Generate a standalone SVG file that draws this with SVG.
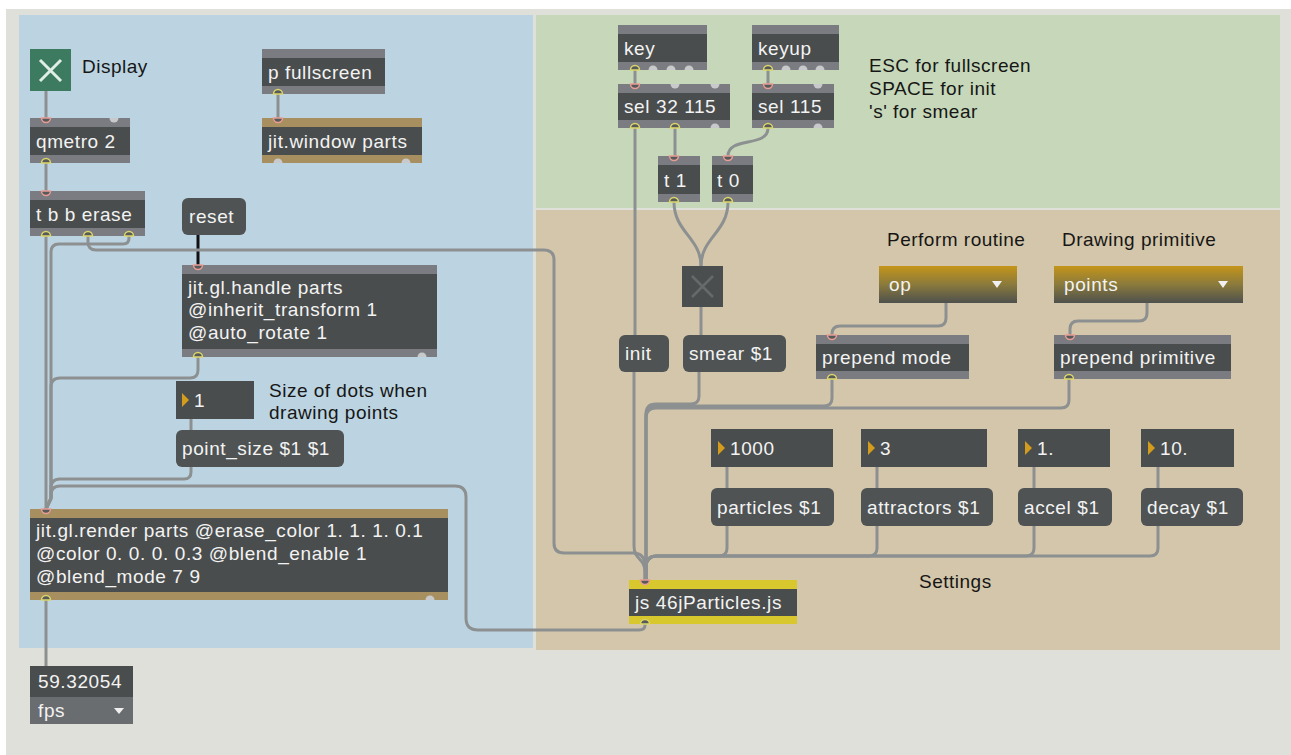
<svg xmlns="http://www.w3.org/2000/svg" width="1291" height="755" viewBox="0 0 1291 755">
<defs>
<style>
.bar{fill:#7b7c81}.gold{fill:#a88f5f}.yel{fill:#d8c72d}.body{fill:#4a4d4d}.msg{fill:#4f5353}
.t{font-family:"Liberation Sans",Arial,sans-serif;font-size:19px;letter-spacing:0.6px;fill:#f3f3f3}
.c{font-family:"Liberation Sans",Arial,sans-serif;font-size:19px;letter-spacing:0.5px;fill:#161616}
.cord{fill:none;stroke:#8d9091;stroke-width:3;stroke-linecap:round;stroke-linejoin:round}
.in{fill:#575a5a;stroke:#e89c94;stroke-width:1.5}
.out{fill:#575a5a;stroke:#dcd66a;stroke-width:1.5}
.dot{fill:#c8c9cb}
.tri{fill:#d49c1c}
.wtri{fill:#f0f0f0}
</style>
<linearGradient id="ug" x1="0" y1="0" x2="0" y2="1">
<stop offset="0" stop-color="#c4951a"/><stop offset="0.5" stop-color="#8a7a3c"/><stop offset="1" stop-color="#4e504d"/>
</linearGradient>
</defs>
<rect x="0" y="0" width="1291" height="755" fill="#ffffff"/>
<rect x="6" y="9" width="1285" height="746" fill="#dfe0da"/>
<rect x="19" y="15" width="514" height="633" fill="#bcd4e1"/>
<rect x="536" y="15" width="744" height="193" fill="#c6d8b9"/>
<rect x="536" y="210" width="744" height="440" fill="#d4c6aa"/>

<g id="connectors">
<path class="cord" d="M46,91 V118"/>
<path class="cord" d="M46,163 V191"/>
<path class="cord" d="M278,94 V118"/>
<path d="M198,235 V265" fill="none" stroke="#111" stroke-width="3"/>
<path class="cord" d="M46,236 V509"/>
<path class="cord" d="M129,236 V238 Q129,244 123,244 H59 Q51,244 51,252 V498 L46,509"/>
<path class="cord" d="M88,236 V242 Q88,250 96,250 H544 Q554,250 554,260 V543 Q554,553 564,553 H633 Q645,553 645,566 V580"/>
<path class="cord" d="M198,357 V370 Q198,378 190,378 H60 Q51,378 51,387 V498 L46,509"/>
<path class="cord" d="M191,419 V430"/>
<path class="cord" d="M191,467 V472 Q191,479 184,479 H60 Q51,479 51,488 V498 L46,509"/>
<path class="cord" d="M645,624 V625 Q645,630 639,630 H478 Q466,630 466,618 V497 Q466,486 455,486 H60 Q51,486 51,495 V499 L46,509"/>
<path class="cord" d="M46,600 V666"/>
<path class="cord" d="M635,70 V84"/>
<path class="cord" d="M768,70 V84"/>
<path class="cord" d="M635,128 V335"/>
<path class="cord" d="M675,128 V156"/>
<path class="cord" d="M768,128 C768,148 728,136 728,156"/>
<path class="cord" d="M674,202 C674,232 701,238 701,266"/>
<path class="cord" d="M728,202 C728,232 701,238 701,266"/>
<path class="cord" d="M701,307 V335"/>
<path class="cord" d="M699,372 V396 Q699,404 691,404 H656 Q646,404 646,414 V580"/>
<path class="cord" d="M634,372 V546 C634,560 645,558 645,572 V580"/>
<path class="cord" d="M946,303 V318 Q946,326 938,326 H840 Q832,326 832,334 V335"/>
<path class="cord" d="M1147,303 V313 Q1147,321 1139,321 H1078 Q1070,321 1070,329 V335"/>
<path class="cord" d="M832,379 V398 Q832,406 824,406 H656 Q646,406 646,416 V580"/>
<path class="cord" d="M1069,379 V400 Q1069,408 1061,408 H656 Q646,408 646,418 V580"/>
<path class="cord" d="M727,467 V488"/>
<path class="cord" d="M877,467 V488"/>
<path class="cord" d="M1034,467 V488"/>
<path class="cord" d="M1158,467 V488"/>
<path class="cord" d="M727,526 V548 Q727,556 719,556 H657 Q646,556 646,567 V580"/>
<path class="cord" d="M877,526 V548 Q877,556 869,556 H657 Q646,556 646,567 V580"/>
<path class="cord" d="M1034,526 V548 Q1034,556 1026,556 H657 Q646,556 646,567 V580"/>
<path class="cord" d="M1158,526 V548 Q1158,556 1150,556 H657 Q646,556 646,567 V580"/>
</g>

<g id="toggle-display">
<rect x="30" y="49" width="41" height="42" fill="#3d7b61"/>
<path d="M40,60 L61,81 M61,60 L40,81" stroke="#dfeee6" stroke-width="3"/>
</g>
<g id="comment-display"><text class="c" x="82" y="73">Display</text></g>

<g id="qmetro">
<rect class="body" x="30" y="118" width="100" height="45"/>
<rect class="bar" x="30" y="118" width="100" height="9"/>
<rect class="bar" x="30" y="155" width="100" height="8"/>
<text class="t" x="36" y="148">qmetro 2</text>
<path class="in" d="M41.5,118 A4.5,4.5 0 0 0 50.5,118 Z"/>
<path class="dot" d="M109.5,118 A4.5,4.5 0 0 0 118.5,118 Z"/>
<path class="out" d="M41.5,163 A4.5,4.5 0 0 1 50.5,163 Z"/>
</g>

<g id="tbb-erase">
<rect class="body" x="30" y="191" width="115" height="45"/>
<rect class="bar" x="30" y="191" width="115" height="9"/>
<rect class="bar" x="30" y="228" width="115" height="8"/>
<text class="t" x="36" y="221">t b b erase</text>
<path class="in" d="M41.5,191 A4.5,4.5 0 0 0 50.5,191 Z"/>
<path class="out" d="M41.5,236 A4.5,4.5 0 0 1 50.5,236 Z"/>
<path class="out" d="M83.5,236 A4.5,4.5 0 0 1 92.5,236 Z"/>
<path class="out" d="M124.5,236 A4.5,4.5 0 0 1 133.5,236 Z"/>
</g>

<g id="p-fullscreen">
<rect class="body" x="262" y="49" width="123" height="45"/>
<rect class="bar" x="262" y="49" width="123" height="9"/>
<rect class="bar" x="262" y="86" width="123" height="8"/>
<text class="t" x="268" y="79">p fullscreen</text>
<path class="out" d="M273.5,94 A4.5,4.5 0 0 1 282.5,94 Z"/>
</g>

<g id="jit-window">
<rect class="body" x="262" y="118" width="160" height="45"/>
<rect class="gold" x="262" y="118" width="160" height="9"/>
<rect class="gold" x="262" y="155" width="160" height="8"/>
<text class="t" x="268" y="148">jit.window parts</text>
<path class="in" d="M273.5,118 A4.5,4.5 0 0 0 282.5,118 Z"/>
<path class="dot" d="M273.5,163 A4.5,4.5 0 0 1 282.5,163 Z"/>
<path class="dot" d="M401.5,163 A4.5,4.5 0 0 1 410.5,163 Z"/>
</g>

<g id="reset">
<rect class="msg" x="182" y="198" width="64" height="37" rx="6"/>
<text class="t" x="189" y="223">reset</text>
</g>

<g id="jit-gl-handle">
<rect class="body" x="182" y="265" width="255" height="92"/>
<rect class="bar" x="182" y="265" width="255" height="9"/>
<rect class="bar" x="182" y="349" width="255" height="8"/>
<text class="t" x="188" y="294">jit.gl.handle parts</text>
<text class="t" x="188" y="316">@inherit_transform 1</text>
<text class="t" x="188" y="339">@auto_rotate 1</text>
<path class="in" d="M193.5,265 A4.5,4.5 0 0 0 202.5,265 Z"/>
<path class="out" d="M193.5,357 A4.5,4.5 0 0 1 202.5,357 Z"/>
<path class="dot" d="M417.5,357 A4.5,4.5 0 0 1 426.5,357 Z"/>
</g>

<g id="num-size">
<rect class="body" x="176" y="381" width="78" height="38"/>
<path class="tri" d="M182,393 L189,400 L182,407 Z"/>
<text class="t" x="194" y="407">1</text>
</g>
<g id="comment-size">
<text class="c" x="269" y="397">Size of dots when</text>
<text class="c" x="269" y="419">drawing points</text>
</g>

<g id="point-size">
<rect class="msg" x="176" y="430" width="168" height="37" rx="6"/>
<text class="t" x="182" y="455">point_size $1 $1</text>
</g>

<g id="jit-gl-render">
<rect class="body" x="30" y="509" width="418" height="91"/>
<rect class="gold" x="30" y="509" width="418" height="9"/>
<rect class="gold" x="30" y="592" width="418" height="8"/>
<text class="t" x="36" y="537">jit.gl.render parts @erase_color 1. 1. 1. 0.1</text>
<text class="t" x="36" y="560">@color 0. 0. 0. 0.3 @blend_enable 1</text>
<text class="t" x="36" y="583">@blend_mode 7 9</text>
<path class="in" d="M41.5,509 A4.5,4.5 0 0 0 50.5,509 Z"/>
<path class="out" d="M41.5,600 A4.5,4.5 0 0 1 50.5,600 Z"/>
<path class="dot" d="M425.5,600 A4.5,4.5 0 0 1 434.5,600 Z"/>
</g>

<g id="fps">
<rect class="body" x="30" y="666" width="103" height="31"/>
<rect x="30" y="697" width="103" height="27" fill="#6a6d70"/>
<text class="t" x="38" y="688">59.32054</text>
<text class="t" x="38" y="717">fps</text>
<path class="wtri" d="M114,708 L124,708 L119,714 Z"/>
</g>

<g id="key">
<rect class="body" x="618" y="25" width="89" height="45"/>
<rect class="bar" x="618" y="25" width="89" height="9"/>
<rect class="bar" x="618" y="62" width="89" height="8"/>
<text class="t" x="624" y="55">key</text>
<path class="out" d="M630.5,70 A4.5,4.5 0 0 1 639.5,70 Z"/>
<path class="dot" d="M648.5,70 A4.5,4.5 0 0 1 657.5,70 Z"/>
<path class="dot" d="M666.5,70 A4.5,4.5 0 0 1 675.5,70 Z"/>
<path class="dot" d="M684.5,70 A4.5,4.5 0 0 1 693.5,70 Z"/>
</g>

<g id="keyup">
<rect class="body" x="752" y="25" width="87" height="45"/>
<rect class="bar" x="752" y="25" width="87" height="9"/>
<rect class="bar" x="752" y="62" width="87" height="8"/>
<text class="t" x="758" y="55">keyup</text>
<path class="out" d="M763.5,70 A4.5,4.5 0 0 1 772.5,70 Z"/>
<path class="dot" d="M781.5,70 A4.5,4.5 0 0 1 790.5,70 Z"/>
<path class="dot" d="M798.5,70 A4.5,4.5 0 0 1 807.5,70 Z"/>
<path class="dot" d="M815.5,70 A4.5,4.5 0 0 1 824.5,70 Z"/>
</g>

<g id="sel-32-115">
<rect class="body" x="618" y="84" width="112" height="44"/>
<rect class="bar" x="618" y="84" width="112" height="9"/>
<rect class="bar" x="618" y="120" width="112" height="8"/>
<text class="t" x="624" y="113">sel 32 115</text>
<path class="in" d="M630.5,84 A4.5,4.5 0 0 0 639.5,84 Z"/>
<path class="dot" d="M670.5,84 A4.5,4.5 0 0 0 679.5,84 Z"/>
<path class="dot" d="M710.5,84 A4.5,4.5 0 0 0 719.5,84 Z"/>
<path class="out" d="M630.5,128 A4.5,4.5 0 0 1 639.5,128 Z"/>
<path class="out" d="M670.5,128 A4.5,4.5 0 0 1 679.5,128 Z"/>
<path class="dot" d="M710.5,128 A4.5,4.5 0 0 1 719.5,128 Z"/>
</g>

<g id="sel-115">
<rect class="body" x="752" y="84" width="82" height="44"/>
<rect class="bar" x="752" y="84" width="82" height="9"/>
<rect class="bar" x="752" y="120" width="82" height="8"/>
<text class="t" x="758" y="113">sel 115</text>
<path class="in" d="M763.5,84 A4.5,4.5 0 0 0 772.5,84 Z"/>
<path class="dot" d="M813.5,84 A4.5,4.5 0 0 0 822.5,84 Z"/>
<path class="out" d="M763.5,128 A4.5,4.5 0 0 1 772.5,128 Z"/>
<path class="dot" d="M813.5,128 A4.5,4.5 0 0 1 822.5,128 Z"/>
</g>

<g id="comment-keys">
<text class="c" x="869" y="72">ESC for fullscreen</text>
<text class="c" x="869" y="95">SPACE for init</text>
<text class="c" x="869" y="118">'s' for smear</text>
</g>

<g id="t1">
<rect class="body" x="658" y="156" width="42" height="46"/>
<rect class="bar" x="658" y="156" width="42" height="9"/>
<rect class="bar" x="658" y="194" width="42" height="8"/>
<text class="t" x="664" y="187">t 1</text>
<path class="in" d="M669.5,156 A4.5,4.5 0 0 0 678.5,156 Z"/>
<path class="out" d="M669.5,202 A4.5,4.5 0 0 1 678.5,202 Z"/>
</g>

<g id="t0">
<rect class="body" x="712" y="156" width="41" height="46"/>
<rect class="bar" x="712" y="156" width="41" height="9"/>
<rect class="bar" x="712" y="194" width="41" height="8"/>
<text class="t" x="717" y="187">t 0</text>
<path class="in" d="M723.5,156 A4.5,4.5 0 0 0 732.5,156 Z"/>
<path class="out" d="M723.5,202 A4.5,4.5 0 0 1 732.5,202 Z"/>
</g>

<g id="comment-perform"><text class="c" x="887" y="246">Perform routine</text></g>
<g id="comment-primitive"><text class="c" x="1062" y="246">Drawing primitive</text></g>

<g id="toggle-smear">
<rect x="682" y="266" width="41" height="41" fill="#4b4e4e"/>
<path d="M692,276 L713,297 M713,276 L692,297" stroke="#666a6a" stroke-width="2.5"/>
</g>

<g id="umenu-op">
<rect x="879" y="266" width="138" height="37" fill="url(#ug)"/>
<text class="t" x="889" y="291">op</text>
<path class="wtri" d="M992,281 L1002,281 L997,288 Z"/>
</g>

<g id="umenu-points">
<rect x="1054" y="266" width="189" height="37" fill="url(#ug)"/>
<text class="t" x="1064" y="291">points</text>
<path class="wtri" d="M1218,281 L1228,281 L1223,288 Z"/>
</g>

<g id="init">
<rect class="msg" x="619" y="335" width="50" height="37" rx="6"/>
<text class="t" x="625" y="360">init</text>
</g>

<g id="smear">
<rect class="msg" x="683" y="335" width="103" height="37" rx="6"/>
<text class="t" x="689" y="360">smear $1</text>
</g>

<g id="prepend-mode">
<rect class="body" x="816" y="335" width="153" height="44"/>
<rect class="bar" x="816" y="335" width="153" height="9"/>
<rect class="bar" x="816" y="371" width="153" height="8"/>
<text class="t" x="822" y="364">prepend mode</text>
<path class="in" d="M827.5,335 A4.5,4.5 0 0 0 836.5,335 Z"/>
<path class="out" d="M827.5,379 A4.5,4.5 0 0 1 836.5,379 Z"/>
</g>

<g id="prepend-primitive">
<rect class="body" x="1054" y="335" width="177" height="44"/>
<rect class="bar" x="1054" y="335" width="177" height="9"/>
<rect class="bar" x="1054" y="371" width="177" height="8"/>
<text class="t" x="1060" y="364">prepend primitive</text>
<path class="in" d="M1065.5,335 A4.5,4.5 0 0 0 1074.5,335 Z"/>
<path class="out" d="M1064.5,379 A4.5,4.5 0 0 1 1073.5,379 Z"/>
</g>

<g id="num-particles">
<rect class="body" x="711" y="429" width="122" height="38"/>
<path class="tri" d="M718,441 L725,448 L718,455 Z"/>
<text class="t" x="730" y="455">1000</text>
</g>
<g id="num-attractors">
<rect class="body" x="861" y="429" width="126" height="38"/>
<path class="tri" d="M868,441 L875,448 L868,455 Z"/>
<text class="t" x="880" y="455">3</text>
</g>
<g id="num-accel">
<rect class="body" x="1018" y="429" width="92" height="38"/>
<path class="tri" d="M1025,441 L1032,448 L1025,455 Z"/>
<text class="t" x="1037" y="455">1.</text>
</g>
<g id="num-decay">
<rect class="body" x="1141" y="429" width="93" height="38"/>
<path class="tri" d="M1148,441 L1155,448 L1148,455 Z"/>
<text class="t" x="1160" y="455">10.</text>
</g>

<g id="msg-particles">
<rect class="msg" x="711" y="488" width="123" height="38" rx="6"/>
<text class="t" x="717" y="514">particles $1</text>
</g>
<g id="msg-attractors">
<rect class="msg" x="861" y="488" width="132" height="38" rx="6"/>
<text class="t" x="867" y="514">attractors $1</text>
</g>
<g id="msg-accel">
<rect class="msg" x="1018" y="488" width="94" height="38" rx="6"/>
<text class="t" x="1024" y="514">accel $1</text>
</g>
<g id="msg-decay">
<rect class="msg" x="1141" y="488" width="102" height="38" rx="6"/>
<text class="t" x="1147" y="514">decay $1</text>
</g>

<g id="comment-settings"><text class="c" x="919" y="588">Settings</text></g>

<g id="js">
<rect class="body" x="629" y="580" width="168" height="44"/>
<rect class="yel" x="629" y="580" width="168" height="9"/>
<rect class="yel" x="629" y="616" width="168" height="8"/>
<text class="t" x="635" y="609">js 46jParticles.js</text>
<path class="in" d="M640.5,580 A4.5,4.5 0 0 0 649.5,580 Z"/>
<path class="out" d="M640.5,624 A4.5,4.5 0 0 1 649.5,624 Z"/>
</g>
</svg>
